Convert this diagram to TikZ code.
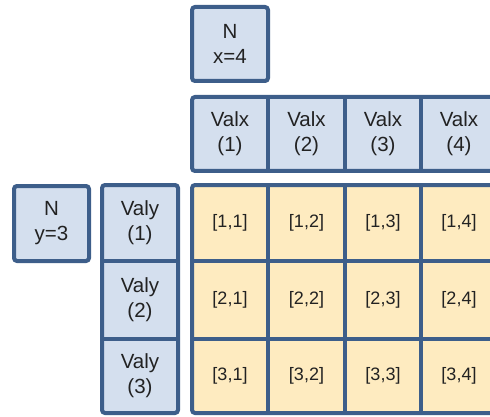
\documentclass[tikz,border=0pt]{standalone}
\usepackage{fontspec}
\setmainfont{Liberation Sans}
\definecolor{bord}{HTML}{3D5E8A}
\definecolor{hblue}{HTML}{D4DFEE}
\definecolor{cyel}{HTML}{FEEBC0}
\definecolor{txt}{HTML}{222222}
\begin{document}
\begin{tikzpicture}[x=1pt,y=-1pt,
  base/.style={inner sep=0pt, outer sep=0pt, align=center, text=txt},
  hdr/.style={base, fill=hblue, font=\fontsize{20.5}{25}\selectfont},
  cell/.style={base, fill=cyel, font=\fontsize{18}{20}\selectfont},
  bord/.style={draw=bord, line width=4pt},
  frame/.style={bord, rounded corners=3pt}]
\useasboundingbox (0,0) rectangle (490,417);
\clip (0,0) rectangle (490,417);
% N x=4
\node[hdr, minimum width=76pt, minimum height=74pt] (nx) at (230,44) {N\\x=4};
% Valx row
\node[hdr, minimum width=76pt, minimum height=74pt] (x1) at (230,134) {Valx\\(1)};
\node[hdr, minimum width=77pt, minimum height=74pt] (x2) at (306.5,134) {Valx\\(2)};
\node[hdr, minimum width=76pt, minimum height=74pt] (x3) at (383,134) {Valx\\(3)};
\node[hdr, minimum width=76pt, minimum height=74pt] (x4) at (459,134) {Valx\\(4)};
% N y=3
\node[hdr, minimum width=75pt, minimum height=75pt] (ny) at (51.5,223.5) {N\\y=3};
% Valy column
\node[hdr, minimum width=76pt, minimum height=76pt] (y1) at (140,223) {Valy\\(1)};
\node[hdr, minimum width=76pt, minimum height=78pt] (y2) at (140,300) {Valy\\(2)};
\node[hdr, minimum width=76pt, minimum height=74pt] (y3) at (140,376) {Valy\\(3)};
% grid
\foreach \r/\cy/\h in {1/223/76, 2/300/78, 3/376/74}{
  \foreach \c/\cx/\w in {1/230/76, 2/306.5/77, 3/383/76, 4/459/76}{
    \node[cell, minimum width=\w pt, minimum height=\h pt] (c\r\c) at (\cx,\cy) {[\r,\c]};
  }
}
% frames
\draw[frame] (nx.north west) rectangle (nx.south east);
\draw[frame] (ny.north west) rectangle (ny.south east);
\draw[frame] (x1.north west) rectangle (x4.south east);
\draw[frame] (y1.north west) rectangle (y3.south east);
\draw[frame] (c11.north west) rectangle (c34.south east);
% dividers
\draw[bord] (x1.north east) -- (x1.south east);
\draw[bord] (x2.north east) -- (x2.south east);
\draw[bord] (x3.north east) -- (x3.south east);
\draw[bord] (y1.south west) -- (y1.south east);
\draw[bord] (y2.south west) -- (y2.south east);
\draw[bord] (c11.north east) -- (c31.south east);
\draw[bord] (c12.north east) -- (c32.south east);
\draw[bord] (c13.north east) -- (c33.south east);
\draw[bord] (c11.south west) -- (c14.south east);
\draw[bord] (c21.south west) -- (c24.south east);
\end{tikzpicture}
\end{document}
